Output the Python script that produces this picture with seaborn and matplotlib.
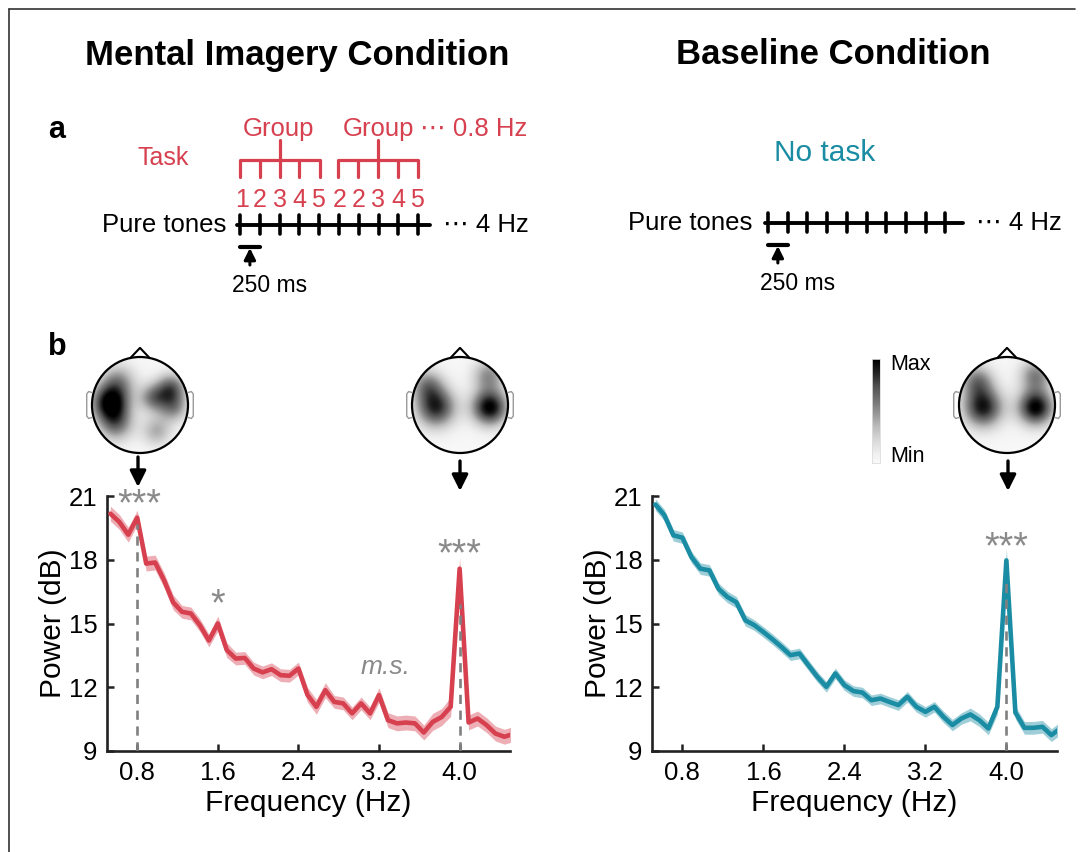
import numpy as np
import matplotlib
matplotlib.use("Agg")
import matplotlib.pyplot as plt
from matplotlib.patches import Circle
import seaborn as sns

FREQS = [0.533, 0.622, 0.711, 0.8, 0.889, 0.978, 1.067, 1.156, 1.244, 1.333,
         1.422, 1.511, 1.6, 1.689, 1.778, 1.867, 1.956, 2.044, 2.133, 2.222,
         2.311, 2.4, 2.489, 2.578, 2.667, 2.756, 2.844, 2.933, 3.022, 3.111,
         3.2, 3.289, 3.378, 3.467, 3.556, 3.644, 3.733, 3.822, 3.911, 4.0,
         4.089, 4.178, 4.267, 4.356, 4.444, 4.533]

MI_POWER = [20.17, 19.78, 19.18, 19.98, 17.82, 17.87, 17.03, 16.0, 15.55, 15.47,
            14.92, 14.2, 15.0, 13.75, 13.35, 13.38, 12.88, 12.7, 12.85, 12.57,
            12.54, 12.88, 11.65, 11.08, 11.86, 11.31, 11.24, 10.77, 11.24, 10.77,
            11.63, 10.45, 10.3, 10.34, 10.3, 9.87, 10.37, 10.6, 11.08, 17.58,
            10.34, 10.53, 10.22, 9.82, 9.67, 9.8]
MI_SEM = [0.35, 0.35, 0.35, 0.35, 0.35, 0.35, 0.35, 0.35, 0.3, 0.3,
          0.3, 0.3, 0.35, 0.35, 0.3, 0.3, 0.3, 0.3, 0.3, 0.3,
          0.3, 0.3, 0.35, 0.35, 0.35, 0.3, 0.3, 0.3, 0.3, 0.3,
          0.35, 0.35, 0.35, 0.35, 0.35, 0.35, 0.4, 0.4, 0.45, 0.55,
          0.35, 0.35, 0.35, 0.35, 0.35, 0.35]

BASE_POWER = [20.6, 20.1, 19.15, 19.04, 18.13, 17.58, 17.5, 16.64, 16.25, 16.0,
              15.15, 14.92, 14.6, 14.26, 13.9, 13.51, 13.59, 13.04, 12.49, 12.02,
              12.65, 12.1, 11.82, 11.75, 11.39, 11.47, 11.31, 11.16, 11.55, 11.08,
              10.84, 11.08, 10.61, 10.22, 10.53, 10.72, 10.45, 10.06, 11.08, 17.97,
              10.81, 10.09, 10.09, 10.14, 9.75, 10.06]
BASE_SEM = [0.27, 0.27, 0.27, 0.27, 0.27, 0.27, 0.27, 0.27, 0.27, 0.27,
            0.27, 0.25, 0.25, 0.25, 0.25, 0.25, 0.25, 0.25, 0.25, 0.25,
            0.25, 0.25, 0.25, 0.25, 0.25, 0.25, 0.25, 0.25, 0.25, 0.25,
            0.25, 0.25, 0.27, 0.27, 0.27, 0.3, 0.3, 0.3, 0.35, 0.55,
            0.3, 0.3, 0.3, 0.3, 0.3, 0.3]

X_TICKS = [0.8, 1.6, 2.4, 3.2, 4.0]
X_TICK_LABELS = ["0.8", "1.6", "2.4", "3.2", "4.0"]
Y_TICKS = [9, 12, 15, 18, 21]

# significance marks: (freq, dB, text)
MI_MARKS = [(0.82, 20.55, "***"), (1.6, 15.85, "*"), (4.0, 18.2, "***")]
BASE_MARKS = [(4.0, 18.55, "***")]
MI_DASHED = [(0.8, 19.7), (4.0, 15.9)]
BASE_DASHED = [(4.0, 17.0)]

# topography blobs: (x, y, amplitude, width) in head units
TOPO_MI_08 = [(-0.62, 0.05, 0.95, 0.27), (-0.45, 0.50, 0.4, 0.26), (-0.50, -0.40, 0.5, 0.26),
              (0.28, 0.15, 0.5, 0.21), (0.65, 0.35, 0.6, 0.22), (0.70, -0.05, 0.45, 0.22),
              (0.35, -0.55, 0.35, 0.22)]
TOPO_MI_4 = [(-0.50, -0.05, 0.8, 0.29), (0.62, -0.05, 0.95, 0.26), (-0.68, 0.42, 0.45, 0.24),
             (0.60, 0.62, 0.45, 0.24)]
TOPO_BASE_4 = [(-0.50, -0.05, 0.85, 0.29), (0.60, -0.05, 0.95, 0.26), (-0.62, 0.50, 0.5, 0.24),
               (0.60, 0.62, 0.5, 0.24)]

RED = "#D6404F"
TEAL = "#1A8CA3"
GREY = "#8A8A8A"
W, H = 1080, 852

sns.set_theme(style="ticks")
plt.rcParams["font.family"] = ["Liberation Sans", "DejaVu Sans"]
plt.rcParams["text.color"] = "black"
plt.rcParams["axes.labelcolor"] = "black"

fig = plt.figure(figsize=(W / 100, H / 100), dpi=100)
fig.patch.set_facecolor("white")


def px_axes(x0, y0, x1, y1):
    return fig.add_axes([x0 / W, 1 - y1 / H, (x1 - x0) / W, (y1 - y0) / H])


def spectrum(ax, power, sem, color, marks, dashed):
    lo = [p - s for p, s in zip(power, sem)]
    hi = [p + s for p, s in zip(power, sem)]
    ax.fill_between(FREQS, lo, hi, color=color, alpha=0.42, lw=0, zorder=2)
    sns.lineplot(x=FREQS, y=power, color=color, lw=3.3, ax=ax, zorder=3)
    for f, top in dashed:
        ax.vlines(f, 9, top, colors="#808080", linestyles=(0, (3.5, 2.5)), lw=1.9, zorder=4)
    for f, v, t in marks:
        ax.text(f, v, t, color=GREY, fontsize=27, ha="center", va="center")
    ax.set_xlim(0.5, 4.5)
    ax.set_ylim(9, 21)
    ax.set_xticks(X_TICKS, X_TICK_LABELS)
    ax.set_yticks(Y_TICKS)
    ax.tick_params(direction="in", length=5, width=1.8, labelsize=18.5, pad=7,
                   colors="#222222", labelcolor="black")
    for s in ("top", "right"):
        ax.spines[s].set_visible(False)
    for s in ("left", "bottom"):
        ax.spines[s].set_linewidth(1.9)
        ax.spines[s].set_color("#222222")
    ax.set_xlabel("Frequency (Hz)", fontsize=21.5, labelpad=3)
    ax.set_ylabel("Power (dB)", fontsize=21.5, labelpad=1)
    ax.set_facecolor("white")


ax_l = px_axes(107, 496, 510, 751)
spectrum(ax_l, MI_POWER, MI_SEM, RED, MI_MARKS, MI_DASHED)
ax_l.text(3.26, 12.96, "m.s.", color=GREY, fontsize=19, style="italic", ha="center", va="center")

ax_r = px_axes(652, 496, 1057, 751)
spectrum(ax_r, BASE_POWER, BASE_SEM, TEAL, BASE_MARKS, BASE_DASHED)


def head(cx, cy, blobs):
    ax = px_axes(cx - 66, cy - 66, cx + 66, cy + 66)
    ax.set_xlim(-1.375, 1.375)
    ax.set_ylim(-1.375, 1.375)
    ax.axis("off")
    g = np.linspace(-1, 1, 220)
    X, Y = np.meshgrid(g, g)
    Z = np.full_like(X, 0.06)
    for bx, by, a, s in blobs:
        Z += a * np.exp(-((X - bx) ** 2 + (Y - by) ** 2) / (2 * s ** 2))
    im = ax.imshow(Z, extent=(-1, 1, -1, 1), origin="lower", cmap="Greys",
                   vmin=0, vmax=1.0, interpolation="bilinear")
    circ = Circle((0, 0), 1, transform=ax.transData, fc="none", ec="black", lw=1.6)
    im.set_clip_path(circ)
    ax.add_patch(circ)
    ax.plot([-0.2, 0, 0.2], [0.98, 1.19, 0.98], color="black", lw=1.5)
    for sgn in (1, -1):
        ax.plot([sgn * 1.0, sgn * 1.07, sgn * 1.11, sgn * 1.11, sgn * 1.07, sgn * 1.0],
                [0.26, 0.28, 0.23, -0.23, -0.28, -0.26], color="#999999", lw=1.0)


head(140, 405, TOPO_MI_08)
head(460, 405, TOPO_MI_4)
head(1007, 405, TOPO_BASE_4)

cb = px_axes(872, 359, 880, 463)
cb.imshow(np.linspace(1, 0, 100).reshape(-1, 1), aspect="auto", cmap="Greys",
          vmin=-0.05, vmax=1.0)
cb.set_xticks([])
cb.set_yticks([])
for s in cb.spines.values():
    s.set_color("#dddddd")
    s.set_linewidth(0.6)

# overlay for schematic, titles and arrows (pixel coordinates)
ov = fig.add_axes([0, 0, 1, 1], zorder=-1)
ov.set_xlim(0, W)
ov.set_ylim(H, 0)
ov.axis("off")

ov.plot([9, 1075], [9, 9], color="#333333", lw=1.2)
ov.plot([9, 9], [9, H], color="#333333", lw=1.2)

ov.text(297, 55, "Mental Imagery Condition", fontsize=25, fontweight="bold", ha="center", va="center")
ov.text(833, 55, "Baseline Condition", fontsize=25, fontweight="bold", ha="center", va="center")
ov.text(57, 130, "a", fontsize=22, fontweight="bold", ha="center", va="center")
ov.text(57, 347, "b", fontsize=22, fontweight="bold", ha="center", va="center")

ov.text(890, 365, "Max", fontsize=15.5, ha="left", va="center")
ov.text(890, 457, "Min", fontsize=15.5, ha="left", va="center")

for cx, y0 in ((138, 457), (460, 461), (1008, 461)):
    ov.annotate("", xy=(cx, y0 + 30), xytext=(cx, y0),
                arrowprops=dict(arrowstyle="-|>", color="black", lw=2.4, mutation_scale=24,
                                shrinkA=0, shrinkB=0))

# left schematic
ov.text(163, 158, "Task", color=RED, fontsize=18, ha="center", va="center")
for gx in (279, 379):
    ov.text(gx, 129, "Group", color=RED, fontsize=18.5, ha="center", va="center")
ov.text(420, 129, "\u22ef 0.8 Hz", color=RED, fontsize=18.5, ha="left", va="center",
        family=["Liberation Sans", "DejaVu Sans"])
for xs in ([240, 260, 280, 299, 320], [338, 358, 378, 398, 418]):
    ov.plot([xs[0], xs[-1]], [160, 160], color=RED, lw=2.3, solid_capstyle="butt")
    for x in xs:
        ov.plot([x, x], [160, 177], color=RED, lw=2.3)
    ov.plot([xs[2], xs[2]], [140, 160], color=RED, lw=2.3)
for x, n in zip([242, 260, 280, 299, 318, 340, 359, 378, 398, 417],
                ["1", "2", "3", "4", "5", "2", "2", "3", "4", "5"]):
    ov.text(x, 200, n, color=RED, fontsize=18, ha="center", va="center")


def tones(x_text, x0, x1, y, tick0, step):
    ov.text(x_text, y, "Pure tones", fontsize=18.5, ha="right", va="center")
    ov.plot([x0, x1], [y, y], color="black", lw=2.8)
    for i in range(10):
        tx = tick0 + step * i
        ov.plot([tx, tx], [y - 10, y + 9], color="black", lw=2.6)
    ov.text(x1 + 13, y, "\u22ef 4 Hz", fontsize=18.5, ha="left", va="center",
            family=["Liberation Sans", "DejaVu Sans"])
    ov.plot([tick0, tick0 + step], [y + 22, y + 22], color="black", lw=3)
    ov.annotate("", xy=(tick0 + step / 2, y + 23), xytext=(tick0 + step / 2, y + 40),
                arrowprops=dict(arrowstyle="-|>", color="black", lw=2.2, mutation_scale=17,
                                shrinkA=0, shrinkB=0))
    ov.text(tick0 + step + 10, y + 60, "250 ms", fontsize=16.5, ha="center", va="center")


tones(226, 237, 430, 225, 240, 19.8)
ov.text(825, 153, "No task", color=TEAL, fontsize=21.5, ha="center", va="center")
tones(752, 765, 963, 223, 768, 19.7)

fig.savefig("out.png", dpi=100, facecolor="white")
